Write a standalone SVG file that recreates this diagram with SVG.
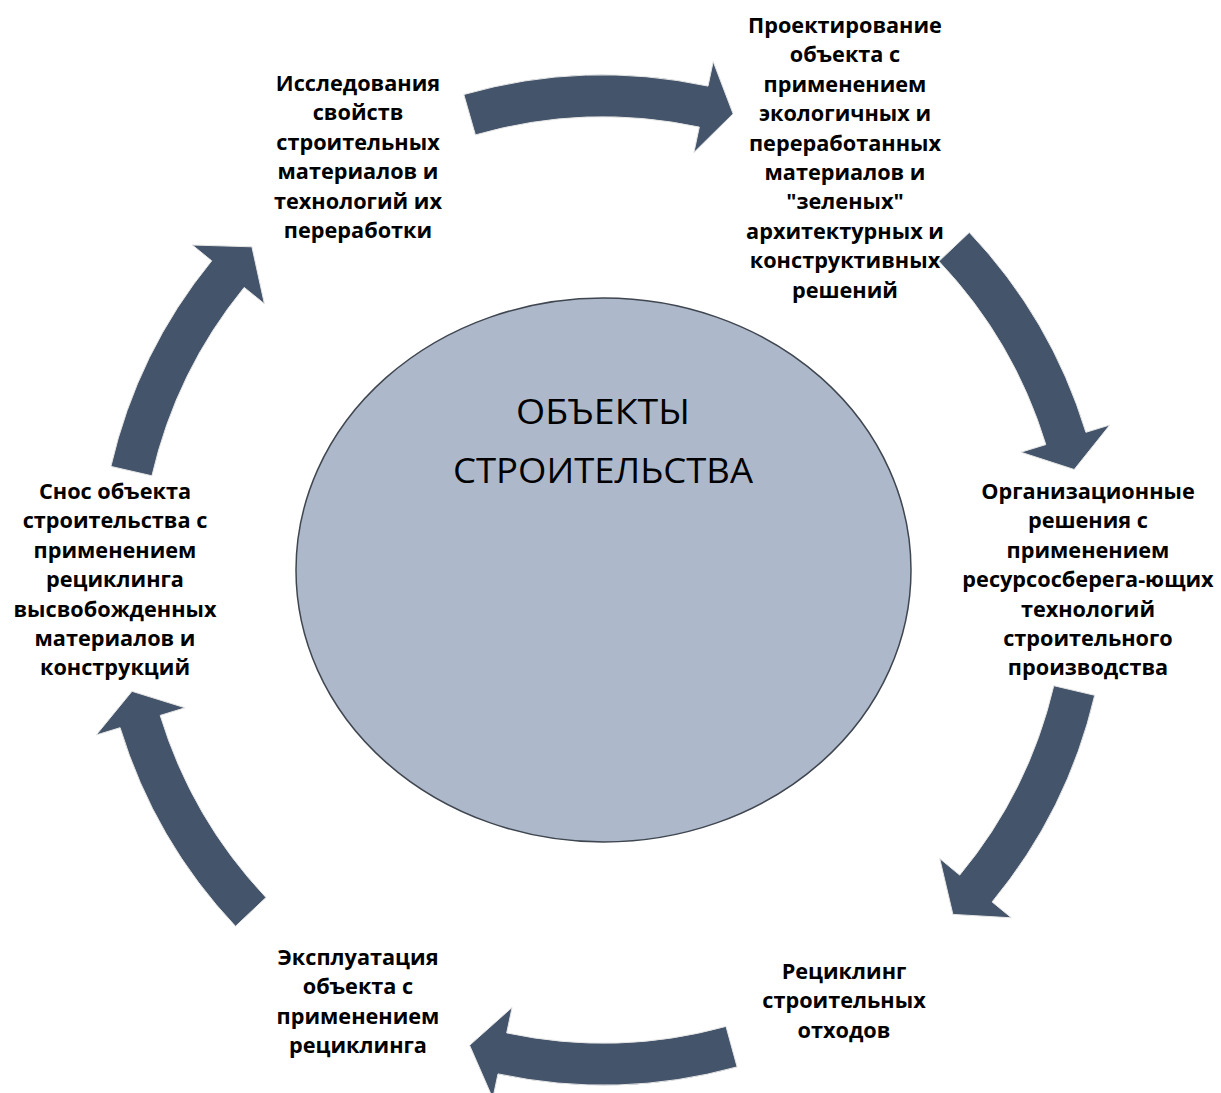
<svg xmlns="http://www.w3.org/2000/svg" width="1221" height="1093" viewBox="0 0 1221 1093">
<style>
.arr{fill:#44546a;stroke:#e6e6e6;stroke-width:1}
.lbl{font-family:"Open Sans","DejaVu Sans",sans-serif;font-weight:bold;font-size:21.7px;fill:#000;text-anchor:middle}
.ctr{font-family:"Open Sans","DejaVu Sans",sans-serif;font-size:34px;fill:#000;text-anchor:middle}
</style>
<rect width="1221" height="1093" fill="#fff"/>
<g id="center">
<ellipse cx="603.5" cy="570" rx="307.5" ry="272" fill="#adb9ca" stroke="#3f4650" stroke-width="1.5"/>
<text class="ctr" x="603" y="424" textLength="174" lengthAdjust="spacingAndGlyphs">ОБЪЕКТЫ</text>
<text class="ctr" x="603" y="483" textLength="300" lengthAdjust="spacingAndGlyphs">СТРОИТЕЛЬСТВА</text>
</g>
<g id="connectors">
<path class="arr" d="M463.8 94.5 A505 505 0 0 1 708.0 86.1 L713.2 61.6 L733.1 113.8 L693.9 152.6 L699.3 127.1 A463 463 0 0 0 475.4 134.9 Z"/>
<path class="arr" d="M969.3 232.4 A505 505 0 0 1 1085.9 432.3 L1109.8 425.0 L1074.2 469.5 L1020.9 452.2 L1045.8 444.6 A463 463 0 0 0 938.9 261.3 Z"/>
<path class="arr" d="M1094.7 695.3 A505 505 0 0 1 992.1 901.9 L1011.4 917.8 L952.9 914.4 L939.7 858.5 L959.7 875.1 A463 463 0 0 0 1053.8 685.7 Z"/>
<path class="arr" d="M737.1 1066.9 A505 505 0 0 1 498.0 1073.9 L492.8 1098.4 L469.6 1045.3 L512.1 1007.4 L506.7 1032.9 A463 463 0 0 0 726.0 1026.4 Z"/>
<path class="arr" d="M235.5 926.3 A505 505 0 0 1 120.1 727.7 L96.2 735.0 L132.0 691.3 L185.1 707.8 L160.2 715.4 A463 463 0 0 0 266.0 897.5 Z"/>
<path class="arr" d="M110.9 466.4 A505 505 0 0 1 211.7 260.8 L192.3 245.0 L251.9 246.8 L264.4 303.8 L244.2 287.4 A463 463 0 0 0 151.9 475.8 Z"/>
</g>
<g id="n1">
<text class="lbl" x="358" y="91">Исследования</text>
<text class="lbl" x="358" y="120.4">свойств</text>
<text class="lbl" x="358" y="149.8">строительных</text>
<text class="lbl" x="358" y="179.2">материалов и</text>
<text class="lbl" x="358" y="208.6">технологий их</text>
<text class="lbl" x="358" y="238">переработки</text>
</g>
<g id="n2">
<text class="lbl" x="845" y="33">Проектирование</text>
<text class="lbl" x="845" y="62.4">объекта с</text>
<text class="lbl" x="845" y="91.8">применением</text>
<text class="lbl" x="845" y="121.2">экологичных и</text>
<text class="lbl" x="845" y="150.6">переработанных</text>
<text class="lbl" x="845" y="180">материалов и</text>
<text class="lbl" x="845" y="209.4">"зеленых"</text>
<text class="lbl" x="845" y="238.8">архитектурных и</text>
<text class="lbl" x="845" y="268.2">конструктивных</text>
<text class="lbl" x="845" y="297.6">решений</text>
</g>
<g id="n3">
<text class="lbl" x="1088" y="499">Организационные</text>
<text class="lbl" x="1088" y="528.4">решения с</text>
<text class="lbl" x="1088" y="557.8">применением</text>
<text class="lbl" x="1088" y="587.2">ресурсосберега-ющих</text>
<text class="lbl" x="1088" y="616.6">технологий</text>
<text class="lbl" x="1088" y="646">строительного</text>
<text class="lbl" x="1088" y="675.4">производства</text>
</g>
<g id="n4">
<text class="lbl" x="844" y="979">Рециклинг</text>
<text class="lbl" x="844" y="1008.4">строительных</text>
<text class="lbl" x="844" y="1037.8">отходов</text>
</g>
<g id="n5">
<text class="lbl" x="358" y="965">Эксплуатация</text>
<text class="lbl" x="358" y="994.4">объекта с</text>
<text class="lbl" x="358" y="1023.8">применением</text>
<text class="lbl" x="358" y="1053.2">рециклинга</text>
</g>
<g id="n6">
<text class="lbl" x="115" y="499">Снос объекта</text>
<text class="lbl" x="115" y="528.4">строительства с</text>
<text class="lbl" x="115" y="557.8">применением</text>
<text class="lbl" x="115" y="587.2">рециклинга</text>
<text class="lbl" x="115" y="616.6">высвобожденных</text>
<text class="lbl" x="115" y="646">материалов и</text>
<text class="lbl" x="115" y="675.4">конструкций</text>
</g>
</svg>
